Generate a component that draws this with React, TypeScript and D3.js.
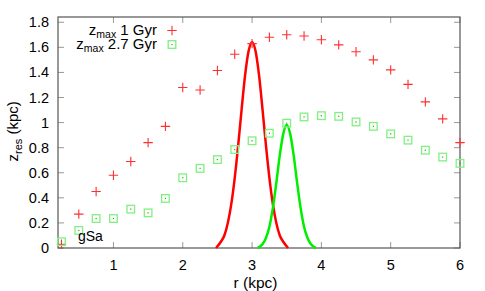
import { useEffect, useRef } from "react";
import * as d3 from "d3";

// sample radii (kpc)
const radii = [0.25, 0.5, 0.75, 1, 1.25, 1.5, 1.75, 2, 2.25, 2.5, 2.75, 3, 3.25, 3.5, 3.75, 4, 4.25, 4.5, 4.75, 5, 5.25, 5.5, 5.75, 6];
const zmax1 = [0.03, 0.27, 0.45, 0.58, 0.69, 0.84, 0.97, 1.28, 1.26, 1.415, 1.545, 1.63, 1.68, 1.70, 1.69, 1.66, 1.62, 1.565, 1.50, 1.42, 1.305, 1.165, 1.03, 0.84];
const zmax27 = [0.05, 0.14, 0.235, 0.235, 0.31, 0.28, 0.395, 0.56, 0.635, 0.705, 0.785, 0.855, 0.915, 0.995, 1.045, 1.055, 1.05, 1.005, 0.97, 0.91, 0.86, 0.78, 0.725, 0.675];

// bell curves
const redCurveR = [2.48, 2.55, 2.6, 2.65, 2.7, 2.75, 2.8, 2.85, 2.9, 2.95, 3.0, 3.05, 3.1, 3.15, 3.2, 3.25, 3.3, 3.35, 3.4, 3.45, 3.52];
const redCurveZ = [0.0, 0.05, 0.10, 0.20, 0.35, 0.56, 0.82, 1.11, 1.38, 1.57, 1.64, 1.57, 1.38, 1.11, 0.82, 0.56, 0.35, 0.20, 0.10, 0.05, 0.0];
const greenCurveR = [3.08, 3.15, 3.2, 3.25, 3.3, 3.35, 3.4, 3.45, 3.5, 3.55, 3.6, 3.65, 3.7, 3.75, 3.8, 3.85, 3.92];
const greenCurveZ = [0.0, 0.03, 0.08, 0.17, 0.32, 0.52, 0.74, 0.91, 0.98, 0.91, 0.74, 0.52, 0.32, 0.17, 0.08, 0.03, 0.0];

const xTicks = [1, 2, 3, 4, 5, 6];
const yTicks = [0, 0.2, 0.4, 0.6, 0.8, 1, 1.2, 1.4, 1.6, 1.8];

export default function App() {
  const ref = useRef<SVGSVGElement>(null);

  useEffect(() => {
    if (!ref.current) return;
    const W = 485, H = 291;
    const margin = { top: 17, right: 25, bottom: 43, left: 58 };
    const svg = d3.select(ref.current);
    svg.selectAll("*").remove();
    const font = "Liberation Sans, Arial, sans-serif";

    const x = d3.scaleLinear().domain([0.2, 6]).range([margin.left, W - margin.right]);
    const y = d3.scaleLinear().domain([0, 1.842]).range([H - margin.bottom, margin.top]);

    // ticks (inward, mirrored on top and right)
    const g = svg.append("g");
    xTicks.forEach(t => {
      g.append("line").attr("x1", x(t)).attr("x2", x(t)).attr("y1", y(0)).attr("y2", y(0) - 6).attr("stroke", "#999");
      g.append("line").attr("x1", x(t)).attr("x2", x(t)).attr("y1", margin.top).attr("y2", margin.top + 6).attr("stroke", "#999");
      g.append("text").attr("x", x(t)).attr("y", y(0) + 22).attr("text-anchor", "middle")
        .attr("font-family", font).attr("font-size", 14.5).attr("fill", "#000").text(t);
    });
    yTicks.forEach(t => {
      g.append("line").attr("x1", margin.left).attr("x2", margin.left + 6).attr("y1", y(t)).attr("y2", y(t)).attr("stroke", "#999");
      g.append("line").attr("x1", W - margin.right).attr("x2", W - margin.right - 6).attr("y1", y(t)).attr("y2", y(t)).attr("stroke", "#999");
      g.append("text").attr("x", margin.left - 9).attr("y", y(t) + 5).attr("text-anchor", "end")
        .attr("font-family", font).attr("font-size", 14.5).attr("fill", "#000").text(t);
    });

    // frame
    svg.append("rect")
      .attr("x", margin.left).attr("y", margin.top)
      .attr("width", W - margin.left - margin.right).attr("height", H - margin.top - margin.bottom)
      .attr("fill", "none").attr("stroke", "#555").attr("stroke-width", 1.2);

    // curves
    const line = d3.line<[number, number]>().x(d => x(d[0])).y(d => y(d[1])).curve(d3.curveMonotoneX);
    svg.append("path")
      .datum(redCurveR.map((r, i) => [r, redCurveZ[i]] as [number, number]))
      .attr("d", line).attr("fill", "none").attr("stroke", "#ff0000").attr("stroke-width", 2.5);
    svg.append("path")
      .datum(greenCurveR.map((r, i) => [r, greenCurveZ[i]] as [number, number]))
      .attr("d", line).attr("fill", "none").attr("stroke", "#00ee00").attr("stroke-width", 2.5);

    // red crosses
    const cross = "M-4.7,0H4.7M0,-4.7V4.7";
    svg.append("g").selectAll("path")
      .data(radii)
      .enter()
      .append("path")
      .attr("d", cross)
      .attr("transform", (r, i) => `translate(${x(r)},${y(zmax1[i])})`)
      .attr("stroke", "#ff3030").attr("stroke-width", 1.1).attr("fill", "none");

    // green boxed dots
    const sq = svg.append("g").selectAll("g")
      .data(radii)
      .enter()
      .append("g")
      .attr("transform", (r, i) => `translate(${x(r)},${y(zmax27[i])})`);
    sq.append("rect").attr("x", -3.8).attr("y", -3.8).attr("width", 7.6).attr("height", 7.6)
      .attr("fill", "none").attr("stroke", "#80f080").attr("stroke-width", 1.3);
    sq.append("rect").attr("x", -0.6).attr("y", -0.6).attr("width", 1.2).attr("height", 1.2).attr("fill", "#30a030");

    // legend
    const legend = [
      { label: "1 Gyr", yy: 30.5 },
      { label: "2.7 Gyr", yy: 44.5 },
    ];
    legend.forEach((l, i) => {
      const t = svg.append("text").attr("x", 157).attr("y", l.yy + 4.5).attr("text-anchor", "end")
        .attr("font-family", font).attr("font-size", 15).attr("fill", "#000");
      t.append("tspan").text("z");
      t.append("tspan").attr("font-size", 10.5).attr("dy", 2.5).text("max");
      t.append("tspan").attr("dy", -2.5).text(" " + l.label);
      if (i === 0) {
        svg.append("path").attr("d", cross).attr("transform", `translate(172,${l.yy})`)
          .attr("stroke", "#ff3030").attr("stroke-width", 1.1).attr("fill", "none");
      } else {
        svg.append("rect").attr("x", 172 - 3.8).attr("y", l.yy - 3.8).attr("width", 7.6).attr("height", 7.6)
          .attr("fill", "none").attr("stroke", "#80f080").attr("stroke-width", 1.3);
        svg.append("rect").attr("x", 171.4).attr("y", l.yy - 0.6).attr("width", 1.2).attr("height", 1.2).attr("fill", "#30a030");
      }
    });

    // gSa label
    svg.append("text").attr("x", 78).attr("y", 241).attr("font-family", font).attr("font-size", 14)
      .attr("fill", "#000").text("gSa");

    // axis titles
    svg.append("text").attr("x", x(3.05)).attr("y", 288).attr("text-anchor", "middle")
      .attr("font-family", font).attr("font-size", 15.5).attr("fill", "#000").text("r (kpc)");
    const yl = svg.append("text").attr("transform", `translate(18,${y(0.93)}) rotate(-90)`).attr("text-anchor", "middle")
      .attr("font-family", font).attr("font-size", 15).attr("fill", "#000");
    yl.append("tspan").text("z");
    yl.append("tspan").attr("font-size", 11).attr("dy", 3.5).text("res");
    yl.append("tspan").attr("dy", -3.5).text(" (kpc)");
  }, []);

  return (
    <svg ref={ref} width={485} height={291}
      style={{ position: "absolute", left: 0, top: 0, background: "#fff" }} />
  );
}
